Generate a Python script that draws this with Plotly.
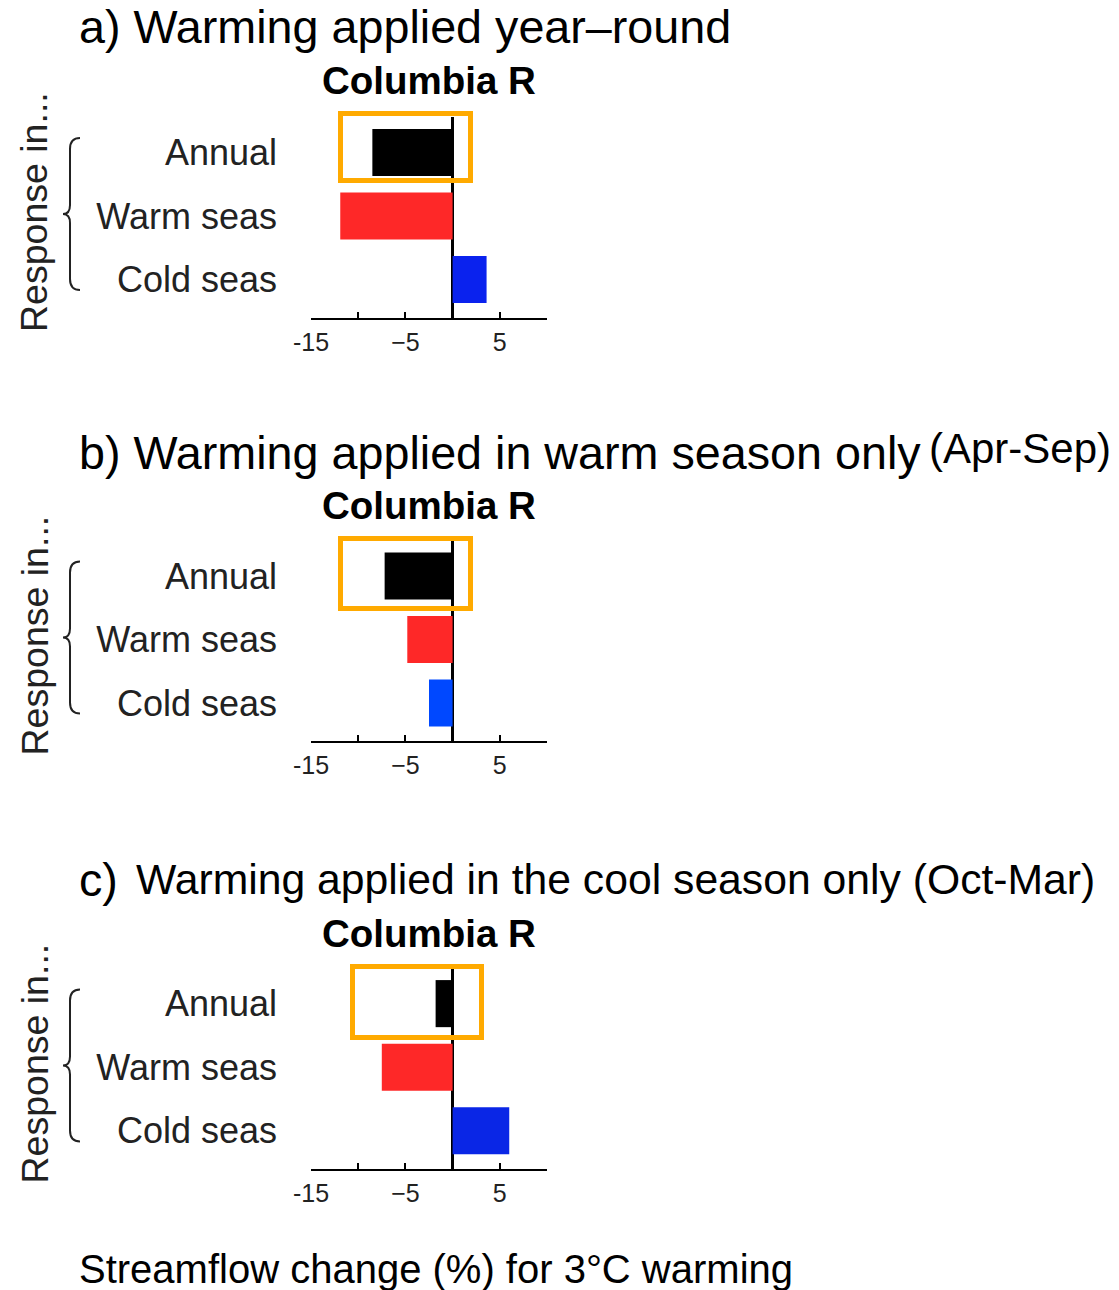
import plotly.graph_objects as go

# ---- data -------------------------------------------------------------
categories = ["Annual", "Warm seas", "Cold seas"]
change_year_round = [-8.5, -11.9, 3.6]     # a) warming applied year-round
change_warm_only = [-7.2, -4.8, -2.5]      # b) warming in warm season only
change_cool_only = [-1.8, -7.5, 6.0]       # c) warming in cool season only

tick_values = [-15, -10, -5, 0, 5, 10]
tick_labels = ["-15", "", "\u22125", "", "5", ""]

panel_titles = ["a) Warming applied year\u2013round",
                "b) Warming applied in warm season only",
                "c)"]
river = "Columbia R"

# ---- layout helpers -----------------------------------------------------
W, H = 1119, 1290
FONT = "Liberation Sans, Arial, sans-serif"


def px(x):
    return x / W


def py(y):
    return 1 - y / H


# pixel geometry of each panel: plot top / bottom (y), plot left / right (x)
panel_top = [117, 540.5, 968]
panel_bottom = [317.5, 741, 1169]
plot_left, plot_right = 311, 547

bar_colors = [
    ["#000000", "#fe2828", "#0a22ee"],
    ["#000000", "#fe2828", "#0048ff"],
    ["#000000", "#fe2828", "#0a26e6"],
]
series = [change_year_round, change_warm_only, change_cool_only]

fig = go.Figure()
layout = dict(
    template="none",
    width=W, height=H,
    margin=dict(l=0, r=0, t=0, b=0, autoexpand=False),
    paper_bgcolor="white", plot_bgcolor="white",
    showlegend=False,
    font=dict(family=FONT, color="black"),
)

for i, vals in enumerate(series):
    n = "" if i == 0 else str(i + 1)
    fig.add_trace(go.Bar(
        x=vals, y=categories, orientation="h",
        marker=dict(color=bar_colors[i], line=dict(width=0)),
        width=0.74, xaxis="x" + n, yaxis="y" + n, hoverinfo="x+y",
    ))
    layout["xaxis" + n] = dict(
        domain=[px(plot_left), px(plot_right)],
        anchor="y" + n, range=[-15, 10], automargin=False,
        tickmode="array", tickvals=tick_values, ticktext=tick_labels,
        ticks="inside", ticklen=6, tickwidth=2, tickcolor="black",
        showline=True, linecolor="black", linewidth=2,
        showgrid=False, zeroline=True, zerolinecolor="black", zerolinewidth=2.5,
        tickfont=dict(size=25, family=FONT, color="#222222"),
        ticklabelstandoff=1,
        fixedrange=True,
    )
    layout["yaxis" + n] = dict(
        domain=[py(panel_bottom[i]), py(panel_top[i])],
        anchor="x" + n, automargin=False,
        type="category", categoryorder="array",
        categoryarray=categories[::-1],
        range=[-0.6, 2.56],
        showline=False, showgrid=False, zeroline=False, ticks="",
        tickfont=dict(size=36, family=FONT, color="#222222"),
        ticklabelstandoff=33,
        fixedrange=True,
    )

annotations = []
shapes = []

# panel headings
title_y = [27, 453, 880]
for i, t in enumerate(panel_titles):
    annotations.append(dict(
        text=t, x=px(77), y=py(title_y[i]), xref="paper", yref="paper",
        xanchor="left", yanchor="middle", showarrow=False,
        font=dict(size=46.7, family=FONT, color="black"),
    ))
annotations.append(dict(
    text="(Apr-Sep)", x=px(927), y=py(449), xref="paper", yref="paper",
    xanchor="left", yanchor="middle", showarrow=False,
    font=dict(size=42, family=FONT, color="black"),
))
annotations.append(dict(
    text="Warming applied in the cool season only (Oct-Mar)",
    x=px(134), y=py(879), xref="paper", yref="paper",
    xanchor="left", yanchor="middle", showarrow=False,
    font=dict(size=42.7, family=FONT, color="black"),
))

# river name above each bar panel
river_y = [81, 505, 933]
for i in range(3):
    annotations.append(dict(
        text="<b>" + river + "</b>", x=px((plot_left + plot_right) / 2),
        y=py(river_y[i]), xref="paper", yref="paper",
        xanchor="center", yanchor="middle", showarrow=False,
        font=dict(size=38.5, family=FONT, color="black"),
    ))

# "Response in..." with a curly brace grouping the three rows
warm_center = [216, 639.5, 1067.5]


def brace_path(xc, ytop, ybot):
    ym = (ytop + ybot) / 2
    pts = [
        ("M", [(xc + 10, ytop)]),
        ("Q", [(xc, ytop), (xc, ytop + 11)]),
        ("L", [(xc, ym - 9)]),
        ("Q", [(xc, ym), (xc - 7, ym)]),
        ("Q", [(xc, ym), (xc, ym + 9)]),
        ("L", [(xc, ybot - 11)]),
        ("Q", [(xc, ybot), (xc + 10, ybot)]),
    ]
    out = []
    for cmd, coords in pts:
        out.append(cmd + " " + " ".join(f"{px(x):.5f},{py(y):.5f}" for x, y in coords))
    return " ".join(out)


for i in range(3):
    c = warm_center[i] - 2
    shapes.append(dict(
        type="path", xref="paper", yref="paper",
        path=brace_path(70, c - 76, c + 76),
        line=dict(color="#222222", width=2),
    ))
    annotations.append(dict(
        text="Response in...", x=px(34), y=py(warm_center[i] - 4),
        xref="paper", yref="paper", xanchor="center", yanchor="middle",
        textangle=-90, showarrow=False,
        font=dict(size=37.5, family=FONT, color="#222222"),
    ))

# orange highlight around the annual response
highlight = [(338, 111, 473, 183), (338, 536, 473, 611), (350, 964, 484, 1040)]
for (x0, y0, x1, y1) in highlight:
    shapes.append(dict(
        type="rect", xref="paper", yref="paper",
        x0=px(x0 + 2.5), x1=px(x1 - 2.5), y0=py(y0 + 2.5), y1=py(y1 - 2.5),
        line=dict(color="#ffaa00", width=5), fillcolor="rgba(0,0,0,0)",
        layer="above",
    ))

# common x-axis caption
annotations.append(dict(
    text="Streamflow change (%) for 3\u00b0C warming",
    x=px(77), y=py(1269), xref="paper", yref="paper",
    xanchor="left", yanchor="middle", showarrow=False,
    font=dict(size=40, family=FONT, color="black"),
))

layout["annotations"] = annotations
layout["shapes"] = shapes
fig.update_layout(**layout)
fig.write_html("out.html")
